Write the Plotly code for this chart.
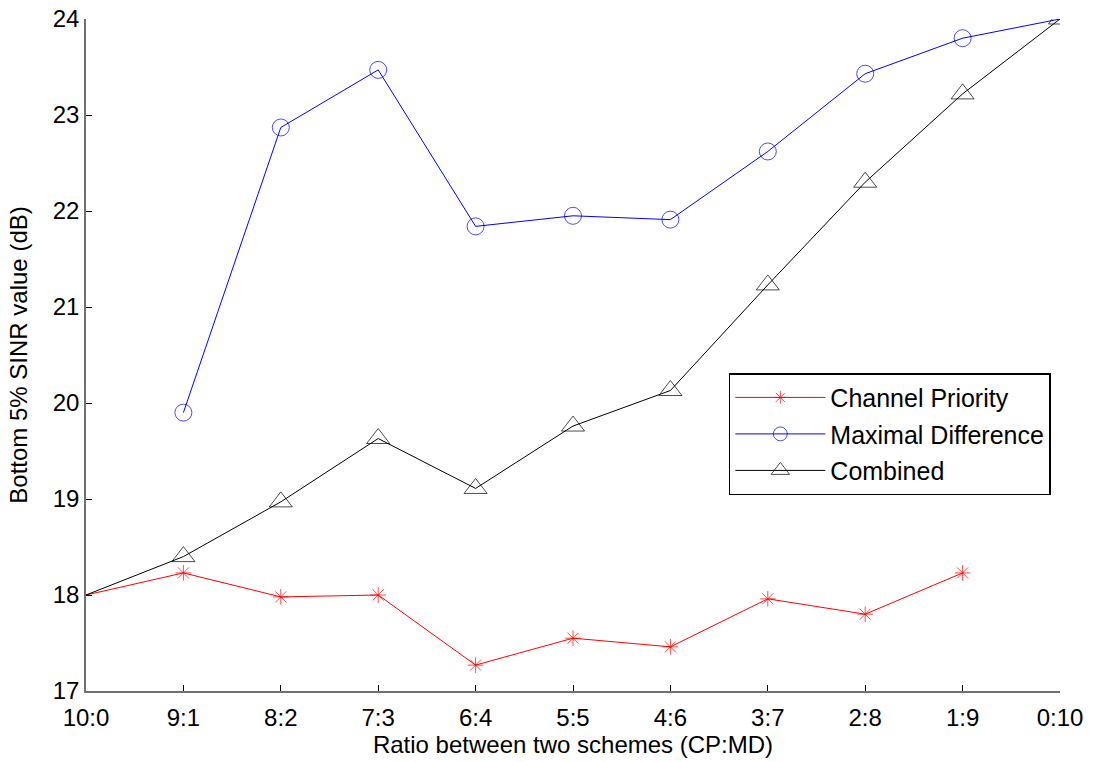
import plotly.graph_objects as go

categories = ["10:0", "9:1", "8:2", "7:3", "6:4", "5:5", "4:6", "3:7", "2:8", "1:9", "0:10"]
channel_priority = [18.0, 18.23, 17.98, 18.0, 17.27, 17.55, 17.46, 17.96, 17.8, 18.23, None]
maximal_difference = [None, 19.9, 22.87, 23.47, 21.84, 21.95, 21.91, 22.62, 23.43, 23.8, 24.0]
combined = [18.0, 18.4, 18.97, 19.63, 19.11, 19.76, 20.13, 21.23, 22.3, 23.22, 24.0]

# marker shown flags (endpoints appended without markers in the original)
cp_marker = [0, 1, 1, 1, 1, 1, 1, 1, 1, 1, 0]
md_marker = [0, 1, 1, 1, 1, 1, 1, 1, 1, 1, 0]
cb_marker = [0, 1, 1, 1, 1, 1, 1, 1, 1, 1, 1]

xpos = list(range(len(categories)))

fig = go.Figure()
fig.add_trace(go.Scatter(
    x=xpos, y=channel_priority, mode="lines+markers", name="Channel Priority",
    legendgroup="a",
    line=dict(color="#ff0000", width=1),
    marker=dict(symbol="asterisk-open", size=[13 * m for m in cp_marker],
                line=dict(color="#ff0000", width=1), color="#ff0000"),
))
fig.add_trace(go.Scatter(
    x=xpos, y=maximal_difference, mode="lines+markers", name="Maximal Difference",
    legendgroup="b",
    line=dict(color="#0000ff", width=1),
    marker=dict(symbol="circle-open", size=[17 * m for m in md_marker],
                line=dict(color="#0000ff", width=1), color="#0000ff"),
))
fig.add_trace(go.Scatter(
    x=xpos, y=combined, mode="lines+markers", name="Combined",
    legendgroup="c",
    line=dict(color="#000000", width=1),
    marker=dict(symbol="triangle-up-open", size=[20 * m for m in cb_marker],
                line=dict(color="#000000", width=1), color="#000000"),
))

font = "Arial, Liberation Sans, sans-serif"
fig.update_layout(
    width=1095, height=762,
    paper_bgcolor="white", plot_bgcolor="white",
    margin=dict(l=86, r=35, t=19, b=71, autoexpand=False),
    font=dict(family=font, size=24, color="black"),
    showlegend=True,
    legend=dict(
        x=0.660, y=0.473, xanchor="left", yanchor="top",
        bordercolor="black", borderwidth=1.5, bgcolor="white",
        font=dict(family=font, size=25, color="black"),
        itemwidth=90, tracegroupgap=1,
    ),
    xaxis=dict(
        range=[0, 10], tickmode="array", tickvals=xpos, ticktext=categories,
        showgrid=False, zeroline=False, showline=True, linecolor="#707070", linewidth=1.5,
        ticks="inside", ticklen=6, tickcolor="black", automargin=False,
        ticklabelstandoff=4,
        title=dict(text="Ratio between two schemes (CP:MD)", font=dict(size=24), standoff=2),
        tickfont=dict(size=24),
    ),
    yaxis=dict(
        range=[17, 24], tickmode="array", tickvals=[17, 18, 19, 20, 21, 22, 23, 24],
        showgrid=False, zeroline=False, showline=True, linecolor="#707070", linewidth=1.5,
        ticks="inside", ticklen=6, tickcolor="black", automargin=False,
        title=dict(text="Bottom 5% SINR value (dB)", font=dict(size=24), standoff=18),
        tickfont=dict(size=24),
    ),
)

fig.write_html("out.html", config={"displayModeBar": False},
               post_script="document.body.style.margin='0px';")
